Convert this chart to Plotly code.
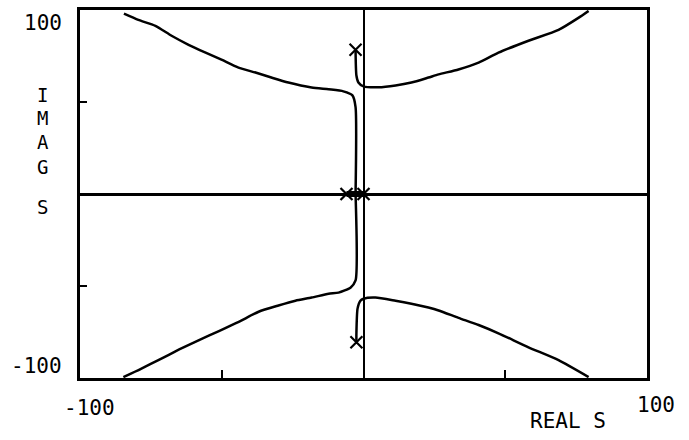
import plotly.graph_objects as go

# Root locus branches (real part, imaginary part)
upper_left_re = [-2.8, -2.8, -3.9, -7.1, -12.3, -18.3, -26.5, -32.5, -38.1, -44.1,
                 -50.1, -55.7, -61.7, -67.7, -73.4, -79.4, -84.5]
upper_left_im = [0.0, 47.2, 53.6, 55.8, 56.9, 57.9, 60.6, 63.3, 66.0, 68.7,
                 73.0, 76.8, 81.1, 86.0, 91.4, 94.6, 98.0]

upper_right_re = [-2.8, -2.5, -1.8, 0.0, 5.3, 11.3, 16.9, 22.9, 26.5, 33.5,
                  40.6, 47.6, 58.2, 68.8, 75.8, 79.4]
upper_right_im = [78.4, 64.4, 60.6, 58.5, 58.0, 59.0, 60.6, 63.3, 65.0, 67.7,
                  71.4, 76.8, 83.3, 89.2, 95.7, 99.5]

lower_left_re = [-2.8, -2.8, -4.6, -8.8, -12.3, -18.3, -24.0, -30.0, -37.0, -44.0,
                 -51.0, -58.2, -65.0, -72.0, -78.5, -84.7]
lower_left_im = [0.0, -47.0, -50.9, -53.6, -54.2, -56.3, -58.0, -60.6, -64.0, -69.5,
                 -74.5, -79.5, -84.5, -90.0, -95.0, -99.5]

lower_right_re = [-2.5, -2.5, -2.1, -1.1, 0.0, 4.2, 11.3, 16.9, 22.9, 26.5, 33.5,
                  40.6, 47.6, 58.2, 68.8, 79.4]
lower_right_im = [-80.6, -75.7, -62.3, -58.0, -56.9, -56.3, -58.0, -59.6, -61.7, -63.3, -67.3,
                  -71.2, -75.7, -83.3, -90.3, -99.5]

# Segment of the locus lying on the real axis
real_seg_re = [-6.0, 0.0]
real_seg_im = [0.0, 0.0]

# Open-loop poles
pole_re = [-2.8, -2.5, -6.0, 0.0]
pole_im = [78.4, -80.6, 0.0, 0.0]

x_range = [-100, 100]
y_range = [-100, 100]
x_minor_ticks = [-50, 50]
x_major_ticks = [0]
y_ticks = [-50, 50]

# Vertical axis title, one letter per row
y_title_letters = ["I", "M", "A", "G", "S"]
y_title_rows = [0.770, 0.706, 0.642, 0.574, 0.464]

FONT = "DejaVu Sans Mono"
INK = "black"

fig = go.Figure()

for re_vals, im_vals in [(upper_left_re, upper_left_im),
                         (upper_right_re, upper_right_im),
                         (lower_left_re, lower_left_im),
                         (lower_right_re, lower_right_im)]:
    fig.add_trace(go.Scatter(x=re_vals, y=im_vals, mode="lines",
                             line=dict(color=INK, width=2.5, shape="spline", smoothing=0.6),
                             hoverinfo="skip", showlegend=False))

fig.add_trace(go.Scatter(x=real_seg_re, y=real_seg_im, mode="lines",
                         line=dict(color=INK, width=6), showlegend=False))

fig.add_trace(go.Scatter(x=pole_re, y=pole_im, mode="markers",
                         marker=dict(symbol="x-thin", size=12,
                                     line=dict(color=INK, width=2.2)),
                         showlegend=False))

fig.update_xaxes(range=x_range, showgrid=False, showticklabels=False,
                 showline=True, linecolor=INK, linewidth=2.5, mirror=True,
                 zeroline=True, zerolinecolor=INK, zerolinewidth=1.5,
                 ticks="inside", tickvals=x_major_ticks, ticklen=16, tickwidth=1.5,
                 tickcolor=INK,
                 minor=dict(ticks="inside", tickvals=x_minor_ticks, ticklen=8,
                            tickwidth=1.5, tickcolor=INK, showgrid=False))
fig.update_yaxes(range=y_range, showgrid=False, showticklabels=False,
                 showline=True, linecolor=INK, linewidth=2.5, mirror=True,
                 zeroline=True, zerolinecolor=INK, zerolinewidth=3,
                 ticks="inside", tickvals=y_ticks, ticklen=7, tickwidth=1.5,
                 tickcolor=INK)

txt = dict(family=FONT, size=21, color=INK)
annotations = [
    dict(text="100", x=-0.028, y=0.965, xanchor="right", yanchor="middle", font=txt),
    dict(text="-100", x=-0.028, y=0.032, xanchor="right", yanchor="middle", font=txt),
    dict(text="-100", x=0.016, y=-0.081, xanchor="center", yanchor="middle", font=txt),
    dict(text="100", x=1.016, y=-0.073, xanchor="center", yanchor="middle", font=txt),
    dict(text="REAL S", x=0.861, y=-0.116, xanchor="center", yanchor="middle", font=txt),
]
for letter, row in zip(y_title_letters, y_title_rows):
    annotations.append(dict(text=letter, x=-0.066, y=row, xanchor="center",
                            yanchor="middle",
                            font=dict(family=FONT, size=19, color=INK)))
for a in annotations:
    a.update(xref="paper", yref="paper", showarrow=False)

fig.update_layout(width=689, height=440, margin=dict(l=80, r=42, t=7, b=62),
                  plot_bgcolor="white", paper_bgcolor="white",
                  annotations=annotations, showlegend=False)

fig.write_html("out.html")
